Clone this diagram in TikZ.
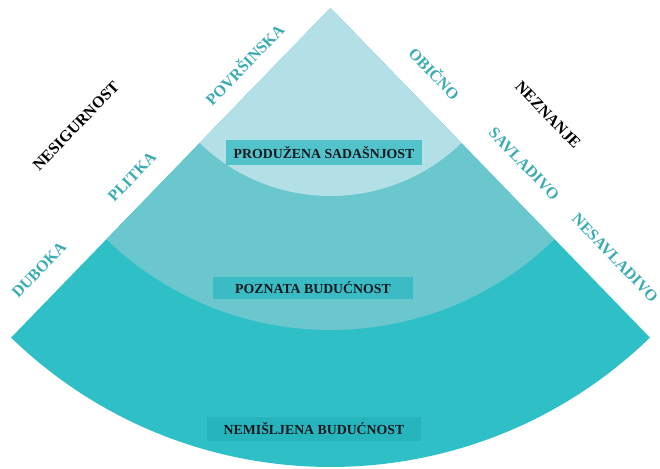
\documentclass[tikz,border=0pt]{standalone}
\usepackage{fontspec}
\setmainfont{Liberation Serif}
\definecolor{inner}{HTML}{B3DFE6}
\definecolor{middle}{HTML}{6AC7CD}
\definecolor{outer}{HTML}{2FBFC7}
\definecolor{boxa}{HTML}{52C3CB}
\definecolor{boxb}{HTML}{3BBCC4}
\definecolor{boxc}{HTML}{27B5BD}
\definecolor{lbl}{HTML}{3AABB3}
\definecolor{ink}{HTML}{15181F}
\begin{document}
\begin{tikzpicture}[x=1pt,y=1pt,
  side/.style={font=\fontsize{16}{18}\selectfont\bfseries, text=lbl, inner sep=0pt},
  sideblack/.style={side, text=black},
  tag/.style={font=\fontsize{13.8}{15}\selectfont\bfseries, text=ink, inner sep=0pt, anchor=center}]
\useasboundingbox (0,0) rectangle (660,468);
\coordinate (apex) at (330.5,460);
\fill[outer] (apex) -- ++(225.9:459) arc[start angle=225.9, end angle=314.1, radius=459] -- cycle;
\fill[middle] (apex) -- ++(225.9:322) arc[start angle=225.9, end angle=314.1, radius=322] -- cycle;
\fill[inner] (apex) -- ++(225.9:188) arc[start angle=225.9, end angle=314.1, radius=188] -- cycle;
% boxes
\node[tag, fill=boxa, minimum width=196, minimum height=25] (b1) at (324,315.5) {PRODUŽENA SADAŠNJOST};
\node[tag, fill=boxb, minimum width=200, minimum height=22] (b2) at (313,180) {POZNATA BUDUĆNOST};
\node[tag, fill=boxc, minimum width=214, minimum height=24] (b3) at (314,39) {NEMIŠLJENA BUDUĆNOST};
% side labels
\node[sideblack, rotate=46] (nes) at (76,342) {NESIGURNOST};
\node[side, rotate=46] (pov) at (244,404) {POVRŠINSKA};
\node[side, rotate=46] (pli) at (132,291) {PLITKA};
\node[side, rotate=46] (dub) at (39,198) {DUBOKA};
\node[side, rotate=-46] (obi) at (435,395) {OBIČNO};
\node[sideblack, rotate=-46] (nez) at (548,353) {NEZNANJE};
\node[side, rotate=-46] (sav) at (524,304) {SAVLADIVO};
\node[side, rotate=-46] (nsv) at (615,210) {NESAVLADIVO};
\end{tikzpicture}
\end{document}
